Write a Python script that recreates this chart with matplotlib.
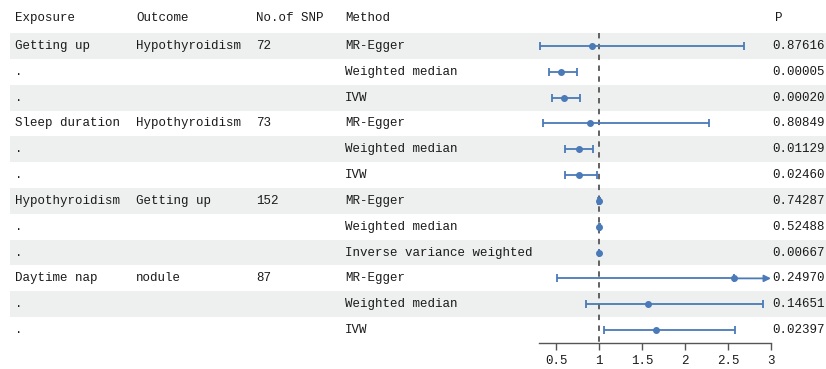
import matplotlib.pyplot as plt

plt.rcParams['font.family'] = ['Liberation Mono', 'DejaVu Sans']

# 表格数据
exposure = ['Getting up', '.', '.', 'Sleep duration', '.', '.',
            'Hypothyroidism', '.', '.', 'Daytime nap', '.', '.']
outcome = ['Hypothyroidism', '', '', 'Hypothyroidism', '', '',
           'Getting up', '', '', 'nodule', '', '']
n_snp = ['72', '', '', '73', '', '', '152', '', '', '87', '', '']
method = ['MR-Egger', 'Weighted median', 'IVW',
          'MR-Egger', 'Weighted median', 'IVW',
          'MR-Egger', 'Weighted median', 'Inverse variance weighted',
          'MR-Egger', 'Weighted median', 'IVW']
p_val = ['0.87616', '0.00005', '0.00020', '0.80849', '0.01129', '0.02460',
         '0.74287', '0.52488', '0.00667', '0.24970', '0.14651', '0.02397']

# OR 与置信区间
est = [0.915, 0.56, 0.59, 0.89, 0.76, 0.764, 1.004, 1.0, 0.998, 2.566, 1.573, 1.66]
lo = [0.306, 0.42, 0.45, 0.345, 0.605, 0.597, 0.99, 0.995, 0.994, 0.515, 0.845, 1.06]
hi = [2.68, 0.745, 0.78, 2.275, 0.934, 0.97, 1.012, 1.005, 1.002, 3.6, 2.91, 2.58]

xticks = [0.5, 1, 1.5, 2, 2.5, 3]
xtick_labels = ['0.5', '1', '1.5', '2', '2.5', '3']

W, H = 826, 369
fig = plt.figure(figsize=(W / 100, H / 100), dpi=100)

row0, step = 46, 25.82   # 第一行中心像素, 行距
def px2row(p):
    return 1 + (p - row0) / step

blue = '#4a7ab8'
txt = '#1a1a1a'
shade = '#edf0ee'
fs = 9

# 背景+文字
bg = fig.add_axes([0, 0, 1, 1])
bg.set_xlim(0, W)
bg.set_ylim(px2row(H), px2row(0))
bg.axis('off')

n = len(method)
rows = list(range(1, n + 1))
for r in rows:
    if r % 2 == 1:
        bg.axhspan(r - 0.5, r + 0.5, xmin=10 / W, xmax=1, color=shade, lw=0, zorder=0)

cols = [15, 136, 256, 345]
headers = ['Exposure', 'Outcome', 'No.of SNP', 'Method']
hy = px2row(18)
for x, h in zip(cols, headers):
    bg.text(x, hy, h, fontsize=fs, va='center', ha='left', color=txt)
bg.text(775, hy, 'P', fontsize=fs, va='center', ha='left', color=txt)

for i, r in enumerate(rows):
    for x, col in zip(cols, [exposure, outcome, n_snp, method]):
        bg.text(x, r, col[i], fontsize=fs, va='center', ha='left', color=txt)
    bg.text(772, r, p_val[i], fontsize=fs, va='center', ha='left', color=txt)

# 森林图
x0, x1 = 539, 771
ax = fig.add_axes([x0 / W, (H - 343) / H, (x1 - x0) / W, 343 / H])
ax.patch.set_alpha(0)
xmin, xmax = 0.3, 3.0
ax.set_xlim(xmin, xmax)
ax.set_ylim(px2row(343), px2row(0))

ax.plot([1, 1], [0.5, px2row(343)], ls=(0, (3, 3)), color='#555555', lw=1.3, zorder=1)

for i, r in enumerate(rows):
    if hi[i] > xmax:
        ax.errorbar(est[i], r, xerr=[[est[i] - lo[i]], [0]], fmt='o', color=blue,
                    ms=4, elinewidth=1.3, capsize=3, capthick=1.3, zorder=3)
        ax.annotate('', xy=(xmax, r), xytext=(est[i], r),
                    arrowprops=dict(arrowstyle='-|>', color=blue, lw=1.3,
                                    shrinkA=0, shrinkB=0, mutation_scale=10),
                    annotation_clip=False)
    else:
        ax.errorbar(est[i], r, xerr=[[est[i] - lo[i]], [hi[i] - est[i]]], fmt='o',
                    color=blue, ms=4, elinewidth=1.3, capsize=3, capthick=1.3, zorder=3)

for s in ['top', 'right', 'left']:
    ax.spines[s].set_visible(False)
ax.spines['bottom'].set_color('#555555')
ax.spines['bottom'].set_linewidth(1)
ax.set_yticks([])
ax.set_xticks(xticks)
ax.set_xticklabels(xtick_labels, fontsize=fs, color=txt)
ax.tick_params(axis='x', length=5, width=1, color='#555555', pad=4)

fig.savefig('out.png', dpi=100)
